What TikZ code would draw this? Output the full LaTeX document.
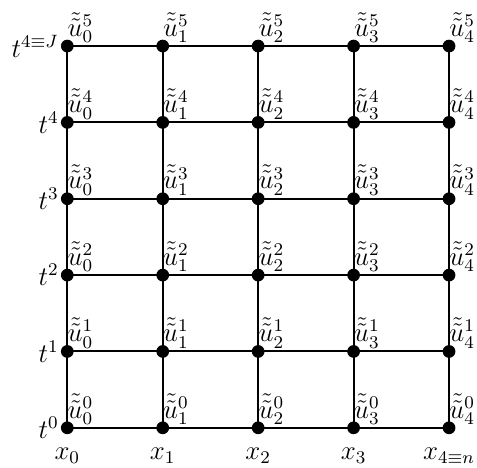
\documentclass[tikz,border=0pt]{standalone}
\usepackage{amsmath}
\usepackage{amssymb}
\usetikzlibrary{positioning}
\tikzset{
  gridpt/.style={circle, fill=black, inner sep=0pt, minimum size=5.7pt},
  gridln/.style={draw=black, line width=0.85pt},
  ulbl/.style={anchor=south west, inner xsep=0pt, inner ysep=1.2pt, font=\large},
  tlbl/.style={inner sep=0pt, font=\large},
  xlbl/.style={inner sep=0pt, font=\large}
}
\begin{document}
\begin{tikzpicture}[x=1.5cm, y=1.2cm]
  \useasboundingbox (-0.705,-0.525) rectangle (4.293,5.603);
  % mesh points
  \foreach \i in {0,...,4}
    \foreach \j in {0,...,5}
      \node[gridpt] (p\i\j) at (\i,\j) {};
  % mesh lines
  \foreach \i in {0,...,4}
    \draw[gridln] (p\i0.center) -- (p\i5.center);
  \foreach \j in {0,...,5}
    \draw[gridln] (p0\j.center) -- (p4\j.center);
  % values
  \foreach \i in {0,...,4}
    \foreach \j in {0,...,5}
      \node[ulbl] (u\i\j) at (p\i\j.center) {$\tilde{\tilde{u}}_{\i}^{\j}$};
  % time levels
  \foreach \j in {0,...,4}
    \node[tlbl, left=0.6pt of p0\j] (t\j) {$t^{\j}$};
  \node[tlbl, left=0.6pt of p05] (t5) {$t^{4\equiv J}$};
  % space points
  \foreach \i in {0,...,3}
    \node[xlbl, below=5.8pt of p\i0] (x\i) {$x_{\i}$};
  \node[xlbl, below=5.8pt of p40] (x4) {$x_{4\equiv n}$};
\end{tikzpicture}
\end{document}
